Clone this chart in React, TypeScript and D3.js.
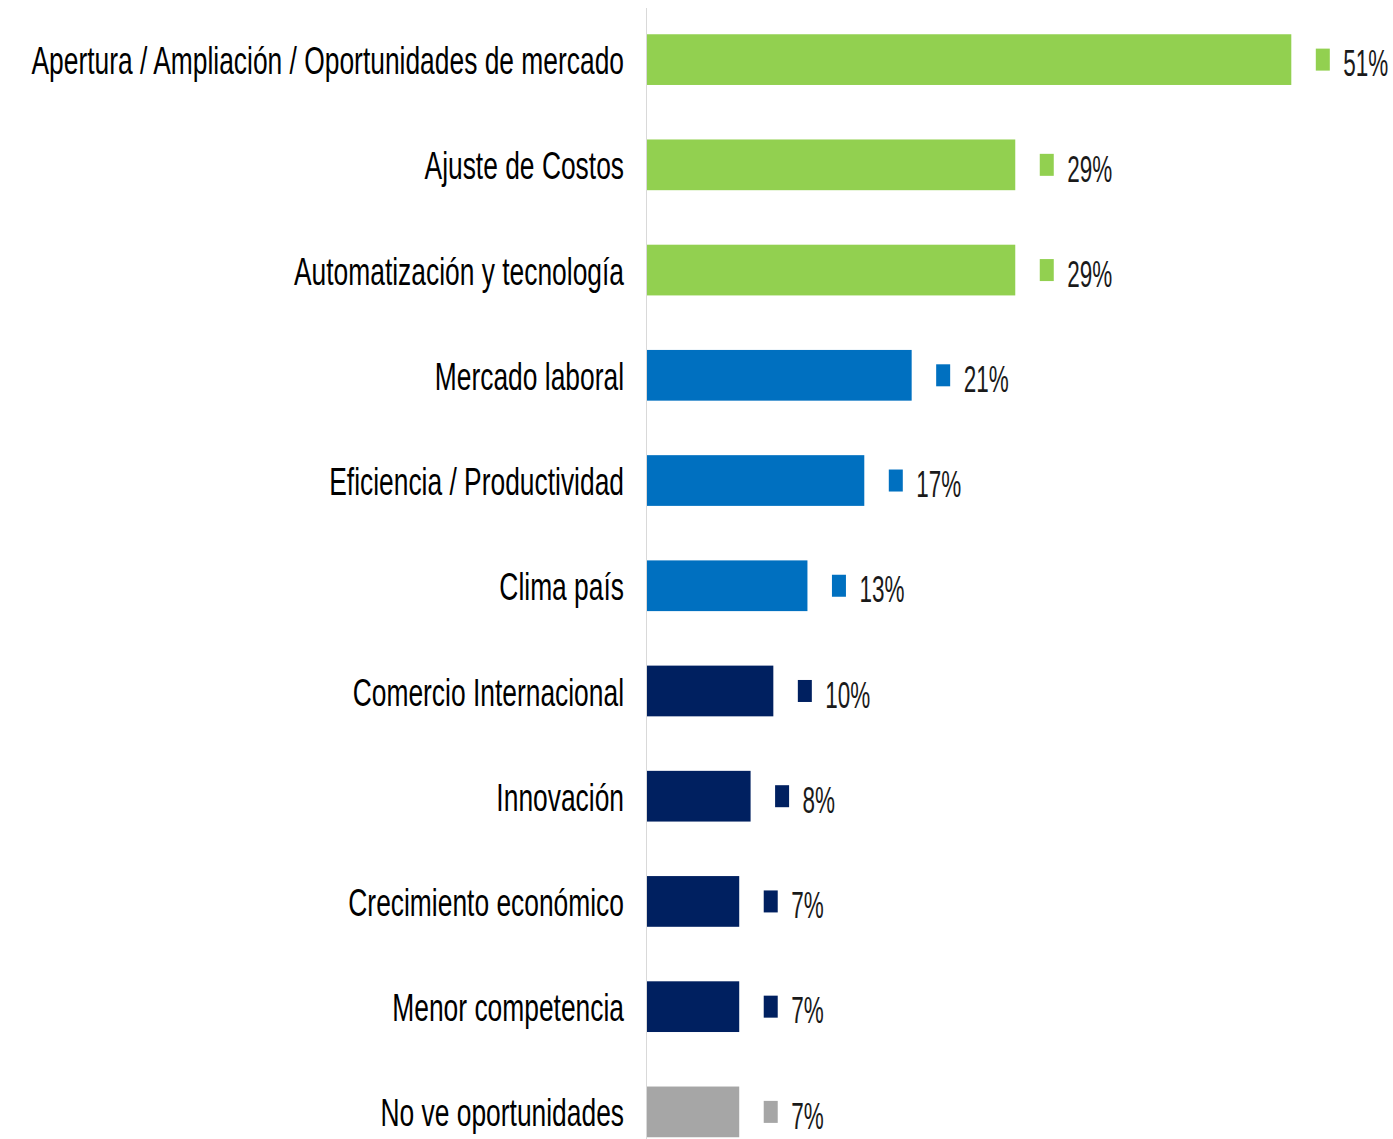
import React from "react";
import * as d3 from "d3";

const categories = [
  "Apertura / Ampliación / Oportunidades de mercado",
  "Ajuste de Costos",
  "Automatización y tecnología",
  "Mercado laboral",
  "Eficiencia / Productividad",
  "Clima país",
  "Comercio Internacional",
  "Innovación",
  "Crecimiento económico",
  "Menor competencia",
  "No ve oportunidades",
];
// estimated underlying values (bar lengths) and printed labels
const values = [51.0, 29.15, 29.15, 20.95, 17.2, 12.7, 10.0, 8.2, 7.3, 7.3, 7.3];
const valueLabels = ["51%", "29%", "29%", "21%", "17%", "13%", "10%", "8%", "7%", "7%", "7%"];
const groups = ["g", "g", "g", "b", "b", "b", "n", "n", "n", "n", "x"];
const groupColors: Record<string, string> = {
  g: "#92D050",
  b: "#0070C0",
  n: "#002060",
  x: "#A6A6A6",
};

const W = 1393;
const H = 1139;
const x0 = 647;
const FONT = "'Liberation Sans', Arial, sans-serif";
const FS = 26.4;
const SY = 1.46;
const VFS = 22.5;
const VSY = 1.61;

export default function App() {
  const x = d3.scaleLinear().domain([0, 51]).range([x0, 1291.3]);
  const y = d3
    .scaleBand()
    .domain(categories)
    .range([7.0, 1164.5])
    .paddingInner(0.518)
    .paddingOuter(0.259);

  return (
    <svg
      width={W}
      height={H}
      style={{ position: "absolute", left: 0, top: 0, background: "#fff" }}
    >
      <line x1={x0 - 0.5} x2={x0 - 0.5} y1={8} y2={H} stroke="#D9D9D9" strokeWidth={1} />
      {categories.map((c, i) => {
        const yy = y(c)!;
        const bw = y.bandwidth();
        const cy = yy + bw / 2;
        const col = groupColors[groups[i]];
        const xe = x(values[i]);
        return (
          <g key={c}>
            <rect x={x0} y={yy} width={xe - x0} height={bw} fill={col} />
            <g transform={`translate(624, ${cy + 14.6}) scale(1, ${SY})`}>
              <text x={0} y={0} textAnchor="end" fontFamily={FONT} fontSize={FS} fill="#000">
                {c}
              </text>
            </g>
            <rect x={xe + 24.5} y={cy - 11} width={14} height={22} fill={col} />
            <g transform={`translate(${xe + 52}, ${cy + 16.7}) scale(1, ${VSY})`}>
              <text x={0} y={0} fontFamily={FONT} fontSize={VFS} fill="#1a1a1a">
                {valueLabels[i]}
              </text>
            </g>
          </g>
        );
      })}
    </svg>
  );
}
